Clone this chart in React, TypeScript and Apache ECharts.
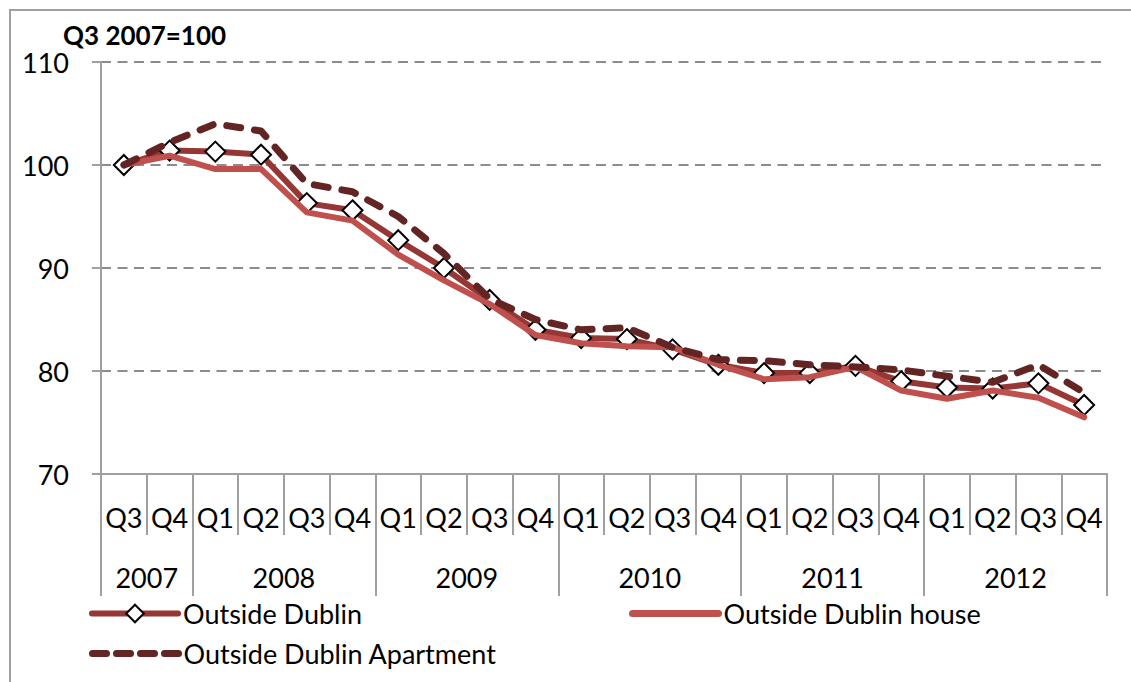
import React, { useEffect, useRef } from 'react';
import * as echarts from 'echarts';

const quarters = ['Q3', 'Q4', 'Q1', 'Q2', 'Q3', 'Q4', 'Q1', 'Q2', 'Q3', 'Q4', 'Q1', 'Q2', 'Q3', 'Q4', 'Q1', 'Q2', 'Q3', 'Q4', 'Q1', 'Q2', 'Q3', 'Q4'];
const years = ['2007', '2008', '2009', '2010', '2011', '2012'];
const quartersPerYear = [2, 4, 4, 4, 4, 4];

const outsideDublin = [100, 101.4, 101.3, 101.0, 96.3, 95.6, 92.7, 90.0, 86.9, 84.0, 83.2, 83.1, 82.1, 80.6, 79.8, 79.8, 80.5, 79.0, 78.4, 78.3, 78.8, 76.7];
const outsideDublinHouse = [100, 100.9, 99.6, 99.6, 95.4, 94.6, 91.3, 88.8, 86.5, 83.5, 82.7, 82.4, 82.3, 80.6, 79.2, 79.4, 80.4, 78.1, 77.3, 78.1, 77.4, 75.5];
const outsideDublinApartment = [100, 102.2, 104.0, 103.3, 98.2, 97.4, 95.0, 91.4, 87.0, 85.0, 84.0, 84.2, 82.3, 81.1, 81.0, 80.6, 80.4, 80.1, 79.5, 78.9, 80.6, 77.9];

const yMin = 70;
const yMax = 110;
const yStep = 10;
const unitTitle = 'Q3 2007=100';

const FONT = 'Lato';
const GRAY = '#a0a0a0';
const C_OD = '#953735';
const C_HOUSE = '#c0504d';
const C_APT = '#632523';

export default function App() {
  const ref = useRef<HTMLDivElement>(null);

  useEffect(() => {
    document.body.style.margin = '0';
    const chart = echarts.init(ref.current!, null, { renderer: 'svg' });

    const yearBoundaries: number[] = [];
    const yearCenters: Record<number, string> = {};
    let acc = 0;
    years.forEach((y, i) => {
      yearBoundaries.push(acc);
      yearCenters[acc + quartersPerYear[i] / 2] = y;
      acc += quartersPerYear[i];
    });

    const textBase = { fontFamily: FONT, color: '#000', fontSize: 27 };

    chart.setOption({
      animation: false,
      backgroundColor: '#fff',
      title: {
        text: unitTitle,
        left: 63,
        top: 22,
        padding: 0,
        textStyle: { ...textBase, fontWeight: 'bold', fontSize: 26 },
      },
      graphic: [
        {
          type: 'rect',
          shape: { x: 10, y: 10, width: 1200, height: 800 },
          style: { fill: 'none', stroke: GRAY, lineWidth: 2 },
          silent: true,
          z: -1,
        },
      ],
      grid: { left: 101, right: 24, top: 62, bottom: 208, containLabel: false },
      legend: [
        {
          data: [{ name: 'Outside Dublin' }],
          left: 89, top: 600, padding: 0,
          itemWidth: 86, itemHeight: 22,
          itemGap: 0,
          lineStyle: { width: 6, color: C_OD },
          itemStyle: { color: '#fff', borderColor: '#000', borderWidth: 2 },
          textStyle: { ...textBase },
        },
        {
          data: [{ name: 'Outside Dublin house' }],
          left: 629, top: 600, padding: 0,
          itemWidth: 86, itemHeight: 22,
          lineStyle: { width: 7, color: C_HOUSE, cap: 'round' },
          itemStyle: { opacity: 0 },
          textStyle: { ...textBase },
        },
        {
          data: [{ name: 'Outside Dublin Apartment' }],
          left: 89, top: 640, padding: 0,
          itemWidth: 86, itemHeight: 22,
          lineStyle: { width: 7, color: C_APT, type: [14, 10], cap: 'round' },
          itemStyle: { opacity: 0 },
          textStyle: { ...textBase },
        },
      ],
      xAxis: [
        {
          type: 'category',
          data: quarters,
          position: 'bottom',
          boundaryGap: true,
          axisLine: { show: true, onZero: false, lineStyle: { color: GRAY, width: 2 } },
          axisTick: { show: true, interval: 0, length: 61, lineStyle: { color: GRAY, width: 2 } },
          axisLabel: { ...textBase, interval: 0, margin: 43, verticalAlign: 'middle' },
          splitLine: { show: false },
        },
        {
          type: 'category',
          data: quarters,
          position: 'bottom',
          boundaryGap: true,
          axisLine: { show: false, onZero: false },
          axisTick: {
            show: true,
            interval: (idx: number) => yearBoundaries.indexOf(idx) >= 0,
            length: 122,
            lineStyle: { color: GRAY, width: 2 },
          },
          axisLabel: { show: false },
          splitLine: { show: false },
        },
        {
          type: 'value',
          position: 'bottom',
          min: 0,
          max: quarters.length,
          interval: 1,
          axisLine: { show: false, onZero: false },
          axisTick: { show: false },
          splitLine: { show: false },
          axisLabel: {
            ...textBase,
            margin: 103,
            verticalAlign: 'middle',
            showMinLabel: true,
            showMaxLabel: true,
            formatter: (v: number) => yearCenters[v] ?? '',
          },
        },
      ],
      yAxis: {
        type: 'value',
        min: yMin,
        max: yMax,
        interval: yStep,
        axisLine: { show: true, lineStyle: { color: GRAY, width: 2 } },
        axisTick: { show: true, length: 9, lineStyle: { color: GRAY, width: 2 } },
        axisLabel: { ...textBase, margin: 32 },
        splitLine: { show: true, lineStyle: { color: '#8c8c8c', width: 2, type: [10, 6.5] } },
      },
      series: [
        {
          name: 'Outside Dublin',
          type: 'line',
          data: outsideDublin,
          z: 2,
          symbol: 'diamond',
          symbolSize: 20,
          showSymbol: true,
          lineStyle: { color: C_OD, width: 6, cap: 'round', join: 'round' },
          itemStyle: { color: '#ffffff', borderColor: '#000', borderWidth: 2 },
        },
        {
          name: 'Outside Dublin house',
          type: 'line',
          data: outsideDublinHouse,
          z: 3,
          symbol: 'none',
          lineStyle: { color: C_HOUSE, width: 6, cap: 'round', join: 'round' },
          itemStyle: { color: C_HOUSE },
        },
        {
          name: 'Outside Dublin Apartment',
          type: 'line',
          data: outsideDublinApartment,
          z: 4,
          symbol: 'none',
          lineStyle: { color: C_APT, width: 7, type: [14, 14], cap: 'round', join: 'round' },
          itemStyle: { color: C_APT },
        },
      ],
    });

    return () => chart.dispose();
  }, []);

  return <div ref={ref} style={{ width: 1131, height: 682 }} />;
}
